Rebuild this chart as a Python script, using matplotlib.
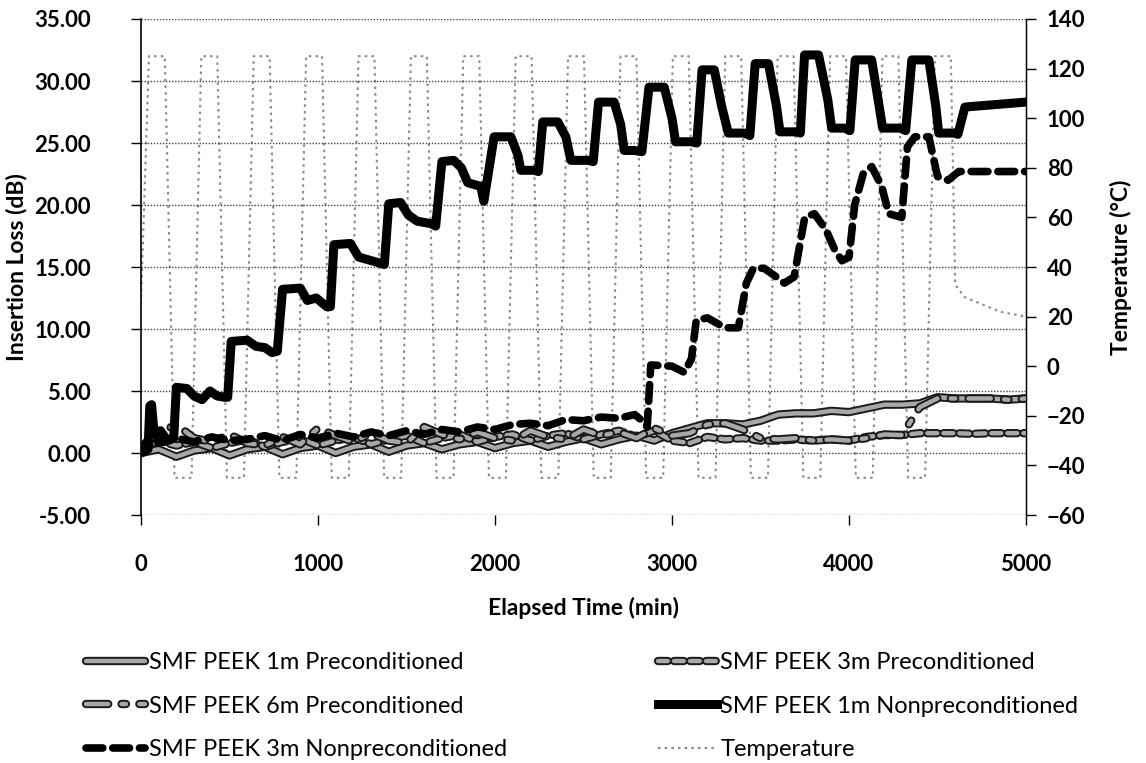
#!/usr/bin/env python3

import numpy as np
import matplotlib
matplotlib.use("Agg")
import matplotlib.pyplot as plt
import matplotlib.patheffects as pe
from matplotlib.ticker import FormatStrFormatter

# ------------------------
# Data
# ------------------------

# preconditioned samples, every 100 min
t_pre = [0, 100, 200, 300, 400, 500, 600, 700, 800, 900, 1000, 1100, 1200, 1300, 1400,
         1500, 1600, 1700, 1800, 1900, 2000, 2100, 2200, 2300, 2400, 2500, 2600, 2700,
         2800, 2900, 3000, 3100, 3200, 3300, 3400, 3500, 3600, 3700, 3800, 3900, 4000,
         4100, 4200, 4300, 4400, 4500, 4600, 4700, 4800, 4900, 5000]

il_1m_pre = [0.0, 0.3, -0.3, 0.2, 0.4, -0.2, 0.3, 0.5, -0.1, 0.4, 0.6, 0.0, 0.5, 0.7, 0.1,
             0.6, 0.8, 0.3, 0.7, 0.9, 0.4, 0.8, 1.0, 0.5, 0.9, 1.2, 0.7, 1.1,
             1.4, 1.0, 1.6, 2.0, 2.4, 2.4, 2.3, 2.6, 3.1, 3.2, 3.2, 3.4, 3.3,
             3.6, 3.9, 3.9, 4.0, 4.5, 4.4, 4.4, 4.4, 4.3, 4.4]

il_3m_pre = [0.2, 1.0, 0.6, 0.9, 0.4, 0.8, 1.1, 0.5, 0.9, 1.2, 0.6, 1.0, 1.3, 0.7, 1.1,
             1.4, 0.8, 1.2, 1.5, 0.9, 1.3, 1.5, 1.0, 1.4, 1.6, 1.1, 1.5, 1.8,
             1.3, 1.8, 1.0, 0.8, 1.3, 1.1, 1.2, 1.0, 1.0, 1.1, 1.0, 1.1, 1.0,
             1.3, 1.45, 1.45, 1.6, 1.6, 1.6, 1.55, 1.6, 1.6, 1.6]

il_6m_pre = [0.5, 1.6, 2.3, 1.2, 0.9, 1.5, 0.8, 0.6, 1.3, 0.7, 2.0, 1.4, 0.9, 1.6, 1.0,
             0.8, 2.1, 1.5, 1.1, 1.7, 1.2, 1.0, 1.8, 1.3, 1.1, 1.9, 1.4, 1.7,
             1.2, 2.0, 1.4, 1.6, 2.3, 2.4, 1.9, 1.2, 1.1, 1.2, 1.0, 1.1, 1.0,
             1.2, 1.5, 1.45, 3.7, 4.4, 4.4, 4.4, 4.4, 4.3, 4.4]

# 1m nonpreconditioned (black solid)
t_1m_non = [0, 40, 50, 60, 75, 110, 150, 185, 200, 260, 300, 345, 390, 430, 470, 490,
            510, 600, 650, 700, 740, 770, 800, 900, 940, 990, 1050, 1070, 1090, 1183,
            1230, 1280, 1353, 1375, 1400, 1467, 1510, 1560, 1637, 1665, 1700, 1767,
            1810, 1846, 1920, 1937, 1995, 2090, 2130, 2146, 2220, 2245, 2270, 2355,
            2400, 2429, 2525, 2555, 2585, 2673, 2710, 2730, 2786, 2830, 2870, 2956,
            3000, 3020, 3109, 3140, 3170, 3239, 3280, 3318, 3409, 3440, 3470, 3545,
            3590, 3610, 3700, 3725, 3749, 3828, 3880, 3902, 3975, 4005, 4035, 4128,
            4170, 4190, 4290, 4320, 4355, 4451, 4490, 4507, 4598, 4615, 4655, 5000]
il_1m_non = [0.0, 0.3, 3.8, 3.9, 1.5, 1.8, 1.0, 1.2, 5.3, 5.2, 4.6, 4.3, 5.0, 4.6, 4.5, 4.5,
             9.0, 9.1, 8.6, 8.5, 8.1, 8.2, 13.2, 13.3, 12.3, 12.5, 11.8, 11.8, 16.8, 16.9,
             15.8, 15.6, 15.3, 15.2, 20.1, 20.2, 19.2, 18.7, 18.5, 18.3, 23.5, 23.6,
             23.0, 21.8, 21.5, 20.3, 25.5, 25.5, 24.0, 22.8, 22.8, 22.7, 26.7, 26.7,
             25.5, 23.6, 23.6, 23.5, 28.3, 28.3, 26.5, 24.4, 24.4, 24.3, 29.5, 29.5,
             27.0, 25.1, 25.1, 25.0, 30.9, 30.9, 28.0, 25.8, 25.8, 25.6, 31.4, 31.4,
             28.0, 25.9, 25.9, 25.8, 32.1, 32.1, 28.5, 26.2, 26.2, 26.0, 31.7, 31.7,
             28.0, 26.2, 26.2, 26.0, 31.7, 31.7, 28.0, 25.8, 25.8, 25.7, 27.9, 28.3]

# 3m nonpreconditioned (black dashed)
t_3m_non = [0, 60, 100, 200, 300, 400, 500, 600, 700, 800, 900, 1000, 1100, 1200, 1300,
            1400, 1500, 1600, 1700, 1800, 1900, 2000, 2100, 2200, 2300, 2400, 2500, 2600,
            2700, 2790, 2840, 2860, 2880, 3000, 3070, 3110, 3137, 3200, 3250, 3300, 3375,
            3420, 3460, 3520, 3580, 3635, 3690, 3731, 3750, 3805, 3870, 3919, 3960, 4000,
            4032, 4080, 4128, 4185, 4224, 4298, 4330, 4372, 4451, 4500, 4560, 4620, 5000]
il_3m_non = [0.3, 1.5, 0.8, 1.2, 0.9, 1.3, 1.0, 1.1, 1.4, 1.0, 1.5, 1.2, 1.6, 1.3, 1.7,
             1.4, 1.8, 1.5, 1.9, 1.7, 2.1, 1.9, 2.3, 2.4, 2.2, 2.7, 2.6, 2.9,
             2.8, 3.1, 2.5, 2.1, 7.1, 7.0, 6.5, 7.6, 10.7, 10.9, 10.5, 10.1, 10.1,
             13.7, 14.9, 14.9, 14.3, 13.7, 14.2, 17.5, 19.0, 19.3, 18.0, 16.4, 15.5, 15.8,
             20.0, 22.5, 23.1, 21.5, 19.3, 19.0, 24.7, 25.5, 25.5, 22.3, 22.0, 22.7, 22.7]

# chamber temperature (right axis)
t_temp = [0, 45, 135, 190,
          286, 341, 431, 486,
          582, 637, 727, 782,
          878, 933, 1023, 1078,
          1174, 1229, 1319, 1374,
          1470, 1525, 1615, 1670,
          1766, 1821, 1911, 1966,
          2062, 2117, 2207, 2262,
          2358, 2413, 2503, 2558,
          2654, 2709, 2799, 2854,
          2950, 3005, 3095, 3150,
          3246, 3301, 3391, 3446,
          3542, 3597, 3687, 3742,
          3838, 3893, 3983, 4038,
          4134, 4189, 4279, 4334,
          4430, 4485, 4575, 4600, 4650, 4750, 4850, 5000]
temp_c = [25, 125, 125, -45,
          -45, 125, 125, -45,
          -45, 125, 125, -45,
          -45, 125, 125, -45,
          -45, 125, 125, -45,
          -45, 125, 125, -45,
          -45, 125, 125, -45,
          -45, 125, 125, -45,
          -45, 125, 125, -45,
          -45, 125, 125, -45,
          -45, 125, 125, -45,
          -45, 125, 125, -45,
          -45, 125, 125, -45,
          -45, 125, 125, -45,
          -45, 125, 125, -45,
          -45, 125, 125, 33, 28, 25, 22, 20]

x_ticks = [0, 1000, 2000, 3000, 4000, 5000]
il_ticks = [-5, 0, 5, 10, 15, 20, 25, 30, 35]
temp_ticks = [-60, -40, -20, 0, 20, 40, 60, 80, 100, 120, 140]

# ------------------------
# Plot
# ------------------------

plt.rcParams['font.family'] = ['Lato', 'DejaVu Sans']

GRAY = '#a8a8a8'
OUTLINE = [pe.Stroke(linewidth=6.0, foreground='#1a1a1a'), pe.Normal()]


def gray_line(ax, x, y, label, ls):
    return ax.plot(x, y, color=GRAY, lw=3.2, ls=ls, label=label,
                   path_effects=OUTLINE, solid_capstyle='round', dash_capstyle='round')[0]


def main():
    fig = plt.figure(figsize=(11.46, 7.63), dpi=100)
    ax = fig.add_axes([0.123, 0.325, 0.7723, 0.6501])
    ax2 = ax.twinx()

    # temperature goes behind the loss curves
    ax.set_zorder(ax2.get_zorder() + 1)
    ax.patch.set_visible(False)
    h_temp, = ax2.plot(t_temp, temp_c, color='#8a8a8a', lw=1.5, ls=(0, (1.2, 2.0)),
                       label='Temperature')

    h1 = gray_line(ax, t_pre, il_1m_pre, 'SMF PEEK 1m Preconditioned', '-')
    h3 = gray_line(ax, t_pre, il_3m_pre, 'SMF PEEK 3m Preconditioned', (0, (2.2, 1.4)))
    h6 = gray_line(ax, t_pre, il_6m_pre, 'SMF PEEK 6m Preconditioned', (0, (5, 3, 1.0, 3)))
    h3n, = ax.plot(t_3m_non, il_3m_non, color='black', lw=5.5, ls=(0, (2.2, 1.3)),
                   dash_capstyle='round', label='SMF PEEK 3m Nonpreconditioned')
    h1n, = ax.plot(t_1m_non, il_1m_non, color='black', lw=6.5, solid_joinstyle='round',
                   label='SMF PEEK 1m Nonpreconditioned')

    # axes setup
    ax.set_xlim(0, 5000)
    ax.set_ylim(-5, 35)
    ax2.set_ylim(-60, 140)
    ax.set_xticks(x_ticks)
    ax.set_yticks(il_ticks)
    ax2.set_yticks(temp_ticks)
    ax.yaxis.set_major_formatter(FormatStrFormatter('%.2f'))

    ax.yaxis.grid(True, color='#444444', ls=(0, (1, 1.2)), lw=1.0)
    ax.xaxis.grid(False)
    for side in ['top', 'bottom']:
        ax.spines[side].set_visible(False)
        ax2.spines[side].set_visible(False)
    ax2.spines['left'].set_visible(False)
    ax.spines['left'].set_linewidth(1.2)
    ax2.spines['right'].set_linewidth(1.0)

    ax.tick_params(axis='y', direction='out', length=7, width=1, pad=29, labelsize=16)
    ax.tick_params(axis='x', direction='out', length=7, width=1, pad=21, labelsize=16)
    ax2.tick_params(axis='y', direction='out', length=7, width=1, pad=8, labelsize=16)
    for lab in ax.get_xticklabels() + ax.get_yticklabels() + ax2.get_yticklabels():
        lab.set_fontweight('bold')

    ax.set_xlabel('Elapsed Time (min)', fontsize=16.5, fontweight='bold', labelpad=16)
    ax.set_ylabel('Insertion Loss (dB)', fontsize=16.5, fontweight='bold', labelpad=5)
    ax2.set_ylabel('Temperature (°C)', fontsize=16.5, fontweight='bold', labelpad=18)

    handles = [h1, h6, h3n, h3, h1n, h_temp]
    fig.legend(handles=handles, labels=[h.get_label() for h in handles], ncol=2,
               loc='upper center', bbox_to_anchor=(0.508, 0.173), frameon=False,
               fontsize=17, handlelength=2.5, handletextpad=0.15, columnspacing=6.4,
               labelspacing=0.95)

    plt.savefig('out.png', dpi=100)
    plt.close()


if __name__ == "__main__":
    main()
